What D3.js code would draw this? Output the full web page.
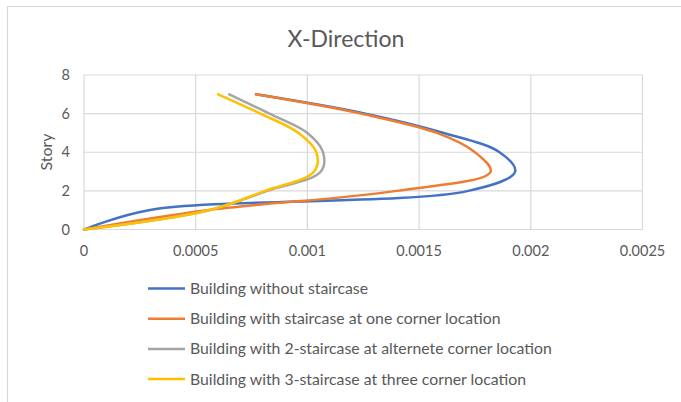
<!DOCTYPE html>
<html>
<head>
<meta charset="utf-8">
<script src="https://cdn.jsdelivr.net/npm/d3@7"></script>
<style>
  body { margin: 0; background: #fff; }
  svg { display: block; font-family: Lato, "Open Sans", sans-serif; }
</style>
</head>
<body>
<svg id="chart" width="681" height="402"></svg>
<script>
// Story levels (y) and drift values (x) for each case
const stories = [0, 1, 2, 3, 4, 5, 6, 7];
const noStair = [0, 0.00029, 0.00172, 0.00193, 0.00186, 0.00161, 0.00126, 0.00077];
const oneCorner = [0, 0.00055, 0.00140, 0.00182, 0.00175, 0.00158, 0.00124, 0.00077];
const twoAlternate = [0, 0.00056, 0.00082, 0.00106, 0.00107, 0.00100, 0.00083, 0.00065];
const threeCorner = [0, 0.00056, 0.00081, 0.00103, 0.00104, 0.00096, 0.00079, 0.00060];

const seriesNames = [
  "Building without staircase",
  "Building with staircase at one corner location",
  "Building with 2-staircase at alternete corner location",
  "Building with 3-staircase at three corner location"
];
const xTicks = [0, 0.0005, 0.001, 0.0015, 0.002, 0.0025];
const yTicks = [0, 2, 4, 6, 8];
const colors = ["#4472C4", "#ED7D31", "#A5A5A5", "#FFC000"];

const series = [noStair, oneCorner, twoAlternate, threeCorner].map((vals, i) => ({
  name: seriesNames[i],
  color: colors[i],
  points: vals.map((v, j) => ({ x: v, y: stories[j] }))
}));

const svg = d3.select("#chart");
const textColor = "#595959";
const gridColor = "#d9d9d9";

// chart frame (only top and left edge show in the picture)
svg.append("path")
  .attr("d", "M7.5,402 V6.5 H681")
  .attr("fill", "none")
  .attr("stroke", gridColor)
  .attr("stroke-width", 1.2);

const plot = { left: 84, right: 642.5, top: 75, bottom: 229.5 };

const xScale = d3.scaleLinear().domain([0, 0.0025]).range([plot.left, plot.right]);
const yScale = d3.scaleLinear().domain([0, 8]).range([plot.bottom, plot.top]);

// Gridlines
svg.append("g")
  .selectAll("line")
  .data(xTicks)
  .join("line")
    .attr("x1", d => xScale(d)).attr("x2", d => xScale(d))
    .attr("y1", plot.top).attr("y2", plot.bottom)
    .attr("stroke", gridColor).attr("stroke-width", 1.2);

svg.append("g")
  .selectAll("line")
  .data(yTicks)
  .join("line")
    .attr("x1", plot.left).attr("x2", plot.right)
    .attr("y1", d => yScale(d)).attr("y2", d => yScale(d))
    .attr("stroke", gridColor).attr("stroke-width", 1.2);

// Tick labels
svg.append("g")
  .selectAll("text")
  .data(xTicks)
  .join("text")
    .attr("x", d => xScale(d))
    .attr("y", 256)
    .attr("text-anchor", "middle")
    .attr("fill", textColor)
    .style("font-size", "14.5px")
    .text(d => d3.format("")(d));

svg.append("g")
  .selectAll("text")
  .data(yTicks)
  .join("text")
    .attr("x", 70)
    .attr("y", d => yScale(d) + 5)
    .attr("text-anchor", "end")
    .attr("fill", textColor)
    .style("font-size", "14.5px")
    .text(d => d);

// Axis title + chart title
svg.append("text")
  .attr("transform", "translate(52,152) rotate(-90)")
  .attr("text-anchor", "middle")
  .attr("fill", textColor)
  .style("font-size", "16px")
  .text("Story");

svg.append("text")
  .attr("x", 346)
  .attr("y", 46.5)
  .attr("text-anchor", "middle")
  .attr("fill", textColor)
  .style("font-size", "23px")
  .text("X-Direction");

// Curves (centripetal Catmull-Rom for the smoothed look)
const lineGen = d3.line()
  .x(d => xScale(d.x))
  .y(d => yScale(d.y))
  .curve(d3.curveCatmullRom.alpha(0.5));

svg.append("g")
  .selectAll("path")
  .data(series)
  .join("path")
    .attr("d", d => lineGen(d.points))
    .attr("fill", "none")
    .attr("stroke", d => d.color)
    .attr("stroke-width", 2.5)
    .attr("stroke-linecap", "round")
    .attr("stroke-linejoin", "round");

// Legend
const legend = svg.append("g")
  .selectAll("g")
  .data(series)
  .join("g")
    .attr("transform", (d, i) => `translate(148,${288.5 + i * 30.2})`);

legend.append("line")
  .attr("x1", 0).attr("x2", 37)
  .attr("stroke", d => d.color)
  .attr("stroke-width", 2.5);

legend.append("text")
  .attr("x", 42)
  .attr("y", 5.5)
  .attr("fill", textColor)
  .style("font-size", "15.8px")
  .text(d => d.name);
</script>
</body>
</html>
